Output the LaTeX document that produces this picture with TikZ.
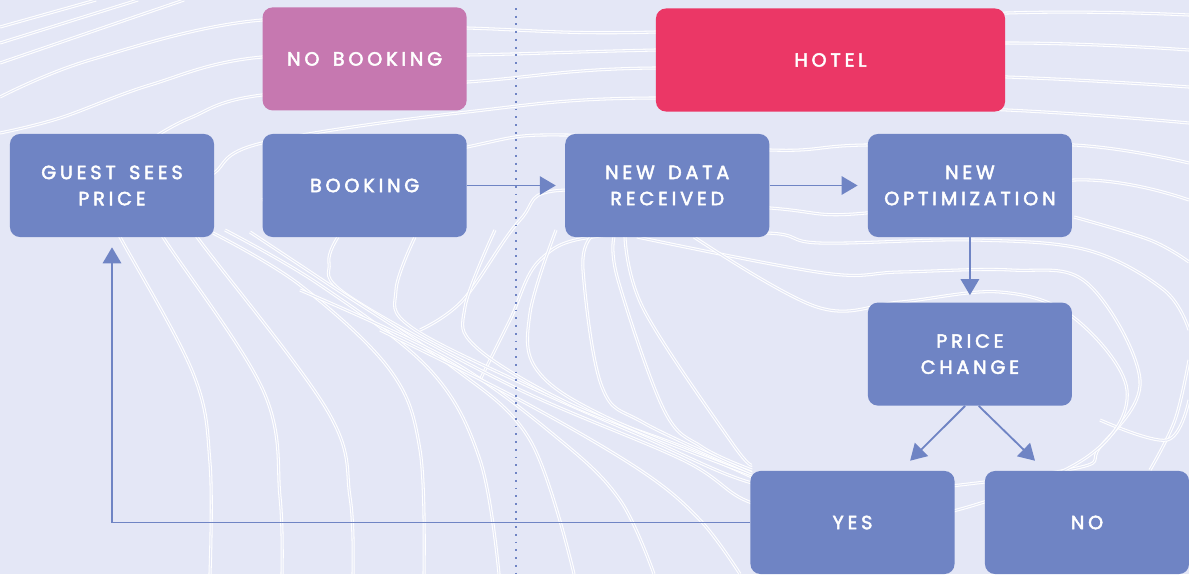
\documentclass[tikz,border=0pt]{standalone}
\usepackage{fontspec}
\usepackage{xcolor}
\usetikzlibrary{arrows.meta,positioning}
\definecolor{flowbg}{HTML}{E4E7F6}
\definecolor{flowblue}{HTML}{6F84C4}
\definecolor{flowpink}{HTML}{C678B0}
\definecolor{flowred}{HTML}{EB3766}
\newfontfamily\flowfont[LetterSpace=20,FakeBold=2.6,WordSpace=1.5]{Poppins}

\begin{document}
\begin{tikzpicture}[
    x=0.025cm, y=-0.025cm,
    node distance=2.45cm,
    stepbox/.style={rectangle,rounded corners=0.25cm,fill=flowblue,text=white,
      minimum width=5.1cm,minimum height=2.575cm,align=center,
      font={\flowfont\fontsize{13.6}{18.6}\selectfont}},
    arrow/.style={-{Triangle[length=0.4cm,width=0.46cm]},draw=flowblue,line width=1.3pt},
    contour/.style={draw=white,line width=0.75pt,double=flowbg,double distance=0.7pt},
    divider/.style={draw=flowblue,line width=1.3pt,dash pattern=on 1.3pt off 4.2pt}
  ]
    \useasboundingbox (0,0) rectangle (1189,574);
    \fill[flowbg] (0,0) rectangle (1189,574);

    % contour lines in the background
    \begin{scope}[smooth,tension=0.6]
      \draw[contour] plot coordinates {(0,27) (96,0)};
      \draw[contour] plot coordinates {(0,43) (138,0)};
      \draw[contour] plot coordinates {(0,63) (184,0)};
      \draw[contour] plot coordinates {(0,97) (90,60) (262,20) (467,28) (656,32) (1007,13) (1189,15)};
      \draw[contour] plot coordinates {(0,133) (60,118) (150,85) (262,57) (467,55) (656,50) (1007,43) (1189,50)};
      \draw[contour] plot coordinates {(150,140) (190,118) (262,95) (467,82) (656,68) (1007,77) (1189,87)};
      \draw[contour] plot coordinates {(190,190) (214,173) (262,143) (467,112) (656,98) (1007,110) (1189,123)};
      \draw[contour] plot coordinates {(262,200) (467,147) (566,135) (770,150) (866,145) (1074,145) (1189,163)};
      \draw[contour] plot coordinates {(420,330) (463,300) (520,220) (566,190) (770,208) (866,213) (1074,180) (1189,200)};
      \draw[contour] plot coordinates {(480,380) (510,320) (540,260) (600,236) (766,233) (820,243) (973,240) (1087,250) (1164,290) (1189,330)};
      \draw[contour] plot coordinates {(1074,217) (1150,240) (1189,262)};
      \draw[contour] plot coordinates {(1189,360) (1175,420) (1150,470)};
      \draw[contour] plot coordinates {(1100,420) (1167,440) (1189,400)};
      % loops around the price change step
      \draw[contour] plot coordinates {(415,237) (396,290) (411,327) (530,387) (644,437) (752,483) (850,495) (1067,470) (1100,447) (1140,380) (1087,283) (1011,270) (900,272) (824,273) (637,237)};
      \draw[contour] plot coordinates {(338,237) (329,263) (350,297) (514,387) (683,460) (752,503) (850,520) (957,510) (1087,457) (1127,390) (1073,317) (1000,292) (900,302) (817,307) (694,237)};
      \draw[contour] plot coordinates {(495,230) (465,307) (476,347) (568,403) (683,447) (752,477)};
      \draw[contour] plot coordinates {(556,230) (530,313) (537,370) (606,417) (752,475)};
      \draw[contour] plot coordinates {(591,237) (583,270) (602,387) (644,423) (752,473)};
      \draw[contour] plot coordinates {(614,237) (618,280) (664,410) (702,447) (752,470)};
      \draw[contour] plot coordinates {(625,237) (644,310) (732,443) (752,465)};
      % lines running down to the lower edge
      \draw[contour] plot coordinates {(100,200) (120,237) (193,373) (210,463) (210,574)};
      \draw[contour] plot coordinates {(150,210) (163,237) (263,390) (280,497) (282,574)};
      \draw[contour] plot coordinates {(185,215) (197,237) (327,410) (350,497) (353,574)};
      \draw[contour] plot coordinates {(213,233) (300,285) (390,370) (420,450) (424,574)};
      \draw[contour] plot coordinates {(225,230) (320,285) (430,370) (480,460) (499,574)};
      \draw[contour] plot coordinates {(250,232) (330,285) (450,365) (530,440) (574,574)};
      \draw[contour] plot coordinates {(300,290) (450,360) (560,440) (620,500) (654,574)};
      \draw[contour] plot coordinates {(380,330) (520,400) (640,470) (700,520) (740,574)};
    \end{scope}

    % guest side / hotel side divider
    \coordinate (divtop) at (516,8);
    \coordinate (divbot) at (516,574);
    \draw[divider] (divtop) -- (divbot);

    % steps
    \node[stepbox] (guest) at (112,185.5) {GUEST SEES\\PRICE};
    \node[stepbox,right=1.2cm of guest] (booking) {BOOKING};
    \node[stepbox,fill=flowpink,above=0.575cm of booking] (nobooking) {NO BOOKING};
    \node[stepbox,right=of booking] (newdata) {NEW DATA\\RECEIVED};
    \node[stepbox,right=of newdata] (newopt) {NEW\\OPTIMIZATION};
    \node[stepbox,below=1.625cm of newopt] (pricechg) {PRICE\\CHANGE};
    \node[stepbox,fill=flowred,minimum width=8.725cm] (hotel) at (830.5,60) {HOTEL};
    \node[stepbox] (yes) at (852.5,522.5) {YES};
    \node[stepbox] (no) at (1087,522.5) {NO};

    \draw[arrow,shorten >=0.23cm] (booking) -- (newdata);
    \draw[arrow,shorten >=0.25cm] (newdata) -- (newopt);
    \draw[arrow,shorten >=0.18cm] (newopt) -- (pricechg);
    \draw[arrow] ([xshift=-0.12cm]pricechg.south) -- ([xshift=1.44cm,yshift=0.25cm]yes.north);
    \draw[arrow] ([xshift=0.22cm]pricechg.south) -- ([xshift=-1.3cm,yshift=0.25cm]no.north);
    \draw[arrow,shorten >=0.25cm] (yes.west) -- (guest.south |- yes.west) -- (guest.south);
\end{tikzpicture}
\end{document}
